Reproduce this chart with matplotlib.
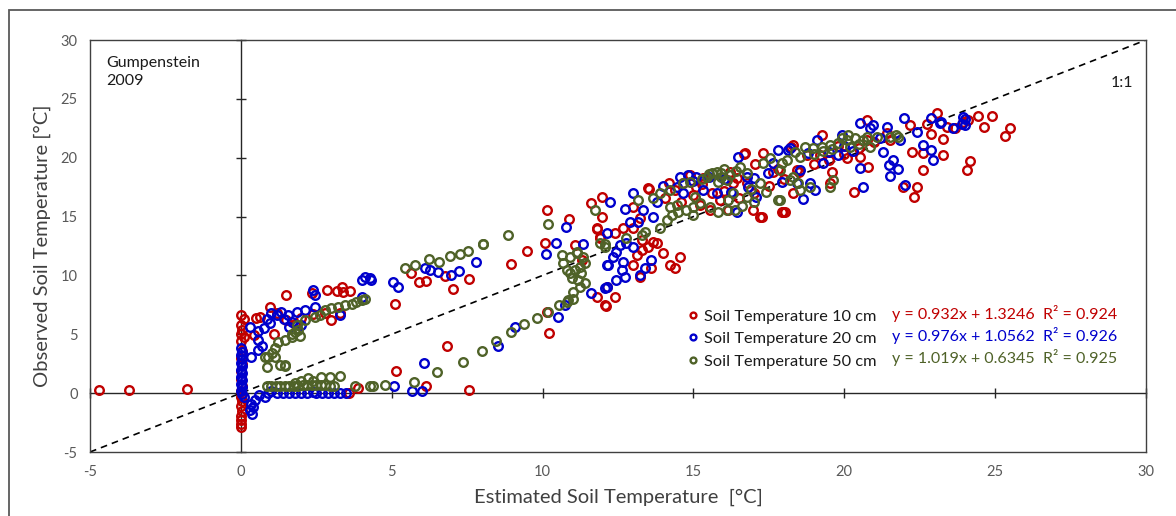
import matplotlib
matplotlib.use("Agg")
import matplotlib.pyplot as plt
from matplotlib.patches import Rectangle

plt.rcParams['font.family'] = ['Lato', 'DejaVu Sans']
plt.rcParams['axes.unicode_minus'] = False

# --- data ---
x10 = [-4.7, -3.7, -1.8,
       0.0, 0.1, 0.0, 0.05, 0.0, 0.1, 0.0, 0.05, 0.0, 0.05, 0.0, 0.0, 0.05, 0.0, 0.0, 0.05, 0.0, 0.05, 0.0, 0.0, 0.0, 0.0,
       0.5, 0.65, 0.96, 1.2, 1.5, 1.5, 1.8, 2.0, 2.36, 2.4, 2.84, 3.0, 3.34, 3.4, 3.61, 3.3, 0.45, 1.1, 2.8, 3.2,
       5.1, 5.65, 5.9, 6.15, 6.76, 7.04, 7.57, 8.97, 9.5,
       3.6, 3.87, 5.14, 6.12, 7.57, 6.82, 10.2, 10.16, 11.79, 12.09, 12.4, 12.12,
       10.08, 10.16, 10.88, 11.6, 11.96, 11.81, 11.9, 11.07, 11.32, 11.81, 11.96, 13.0, 13.22, 12.67, 11.9, 12.4,
       13.0, 13.31, 13.67, 13.8, 13.5, 13.28, 13.12, 13.0, 14.0, 14.55, 14.22, 14.39, 13.22, 13.6, 12.06,
       13.53, 14.2, 13.5, 14.39, 14.05, 14.66, 14.88, 15.32, 15.1, 15.21, 15.55, 15.88, 16.15, 16.32, 16.76, 16.43,
       16.67, 16.7, 17.04, 17.31, 17.64, 17.26, 17.2, 16.98, 17.92, 17.97, 18.3, 18.42, 18.3, 18.03,
       18.25, 18.75, 19.25, 19.52, 19.58, 20.08, 20.32, 20.52, 20.74, 20.76, 20.79, 21.4, 21.95, 22.17, 22.26,
       22.32, 22.4, 22.6, 22.62, 22.73, 22.87, 23.06, 23.26, 23.26, 23.39, 23.67, 23.94, 24.07, 24.16, 24.1,
       24.44, 24.64, 24.88, 25.32, 25.49,
       15.0, 15.6, 16.0, 16.5, 17.0, 17.5, 18.0, 18.5, 19.0, 19.5, 20.0, 20.5, 21.0, 21.5, 19.8, 17.8, 16.2,
       15.3, 14.6, 19.2]
y10 = [0.25, 0.25, 0.35,
       6.6, 6.3, 5.8, 5.4, 5.0, 4.8, 4.4, 3.6, 3.0, 2.5, 1.9, 1.2, 0.6, 0.2, -0.3, -0.7, -1.1, -1.5, -1.9, -2.3, -2.6, -2.9,
       6.4, 6.5, 7.3, 6.8, 8.3, 6.2, 5.9, 6.4, 8.5, 6.7, 8.8, 6.2, 9.0, 8.6, 8.7, 6.8, 4.9, 5.0, 6.8, 8.7,
       7.6, 10.17, 9.46, 9.5, 9.97, 8.84, 9.7, 10.96, 12.06,
       0.0, 0.4, 1.9, 0.6, 0.25, 4.0, 5.07, 6.91, 8.18, 7.42, 8.18, 9.03,
       12.72, 15.55, 14.76, 16.17, 16.68, 14.0, 13.14, 12.57, 11.3, 13.93, 14.98, 15.83, 14.84, 13.99, 13.28, 13.57,
       13.99, 13.0, 12.86, 12.72, 12.43, 12.15, 11.72, 10.88, 11.87, 11.53, 10.88, 10.6, 9.88, 10.6, 7.48,
       17.3, 17.87, 17.39, 17.25, 16.54, 17.82, 18.52, 18.24, 17.53, 15.97, 15.55, 16.4, 15.55, 17.82, 17.82, 18.24,
       20.3, 20.36, 19.5, 20.36, 18.8, 14.98, 14.93, 15.55, 15.4, 15.4, 21.07, 18.95, 16.97, 15.4,
       20.93, 20.22, 21.92, 17.82, 18.8, 19.94, 17.1, 20.08, 21.5, 23.19, 19.23, 22.06, 17.53, 22.77, 20.45,
       16.68, 17.53, 20.36, 18.95, 22.85, 21.98, 23.81, 21.63, 20.22, 22.63, 22.49, 23.05, 18.95, 19.74, 23.19,
       23.53, 22.63, 23.53, 21.86, 22.49,
       16.8, 17.0, 17.2, 16.6, 17.0, 17.6, 18.2, 18.8, 19.5, 19.8, 20.3, 20.8, 21.3, 21.5, 21.0, 19.0, 18.8,
       17.8, 16.2, 20.2]

x20 = [0.0, 0.05, 0.0, 0.05, 0.0, 0.05, 0.0, 0.05, 0.0, 0.05, 0.0, 0.05, 0.0, 0.05, 0.1,
       0.37, 0.41, 0.46, 0.3, 0.8, 0.6, 0.35,
       0.9, 1.2, 1.4, 1.6, 1.8, 2.0, 2.2, 2.5, 2.7, 2.9, 3.1, 3.3, 3.5, 1.0, 2.4,
       5.06, 5.66, 6.01, 6.08, 8.53, 9.08, 10.52, 10.74,
       0.33, 0.57, 0.57, 0.57, 0.77, 0.96, 0.85, 1.33, 1.57, 1.85, 2.12, 2.45, 2.4, 2.45, 1.68, 3.28, 4.0,
       4.11, 4.28, 4.33, 4.0, 1.44, 1.2, 1.6, 2.0, 1.0, 0.3, 0.7,
       5.05, 5.21, 6.1, 6.27, 6.54, 6.98, 7.24, 7.81,
       10.76, 10.44, 10.1, 11.35, 12.12, 12.34, 12.14, 12.45, 11.62, 12.06, 13.0, 12.23, 12.73, 13.33, 13.67,
       12.89, 13.17, 12.56, 12.78, 13.0, 12.45, 12.67, 12.17, 12.62, 12.73, 12.12, 13.61, 13.39, 13.22,
       16.48, 17.81, 18.2, 14.55, 14.83, 15.1, 14.44, 14.66, 15.77, 16.43, 17.09, 17.48, 17.92, 18.42, 16.76,
       15.32, 16.26, 17.64,
       20.52, 21.99, 22.87, 23.94, 23.99, 23.17, 23.61, 22.4, 21.84, 21.4, 20.85, 20.96, 22.62, 22.89, 22.95,
       21.62, 21.49, 21.79, 21.51, 20.52, 20.63, 22.0, 19.91, 19.08, 18.53, 18.86, 19.03, 18.64, 21.29, 18.14,
       19.3, 21.18,
       15.0, 15.5, 16.0, 14.0, 13.8, 19.5, 20.0, 20.3, 19.8, 18.8, 17.0, 16.8, 23.2, 24.0, 23.9]
y20 = [3.8, 3.5, 3.2, 2.9, 2.6, 2.3, 2.0, 1.7, 1.4, 1.1, 0.8, 0.5, 0.2, -0.1, -0.3,
       -1.78, -1.16, -0.6, -1.4, -0.31, -0.2, -0.88,
       0.0, 0.0, 0.05, 0.0, 0.0, 0.0, 0.05, 0.0, 0.0, 0.0, 0.05, 0.0, 0.05, 0.15, 0.1,
       0.6, 0.17, 0.17, 2.58, 4.02, 5.58, 6.43, 7.48,
       3.09, 3.65, 4.5, 5.3, 5.5, 5.92, 6.34, 6.91, 6.63, 6.91, 7.05, 7.33, 8.75, 8.33, 6.06, 6.63, 8.18,
       9.88, 9.74, 9.6, 9.6, 6.34, 6.6, 5.6, 5.8, 6.8, 5.6, 4.0,
       9.46, 9.03, 10.65, 10.45, 10.31, 10.03, 10.39, 11.16,
       14.08, 12.77, 11.81, 12.66, 13.57, 11.58, 10.88, 9.6, 8.47, 8.9, 16.97, 16.25, 15.61, 15.55, 14.98,
       14.56, 14.56, 12.57, 12.72, 12.43, 12.0, 11.16, 10.88, 10.45, 9.88, 9.03, 11.3, 10.6, 10.03,
       20.08, 20.65, 20.79, 18.39, 18.52, 18.39, 17.53, 16.97, 16.97, 15.4, 16.68, 18.66, 17.95, 17.82, 18.39,
       17.25, 17.1, 19.51,
       22.91, 23.34, 23.34, 23.48, 22.77, 22.91, 22.54, 22.2, 21.5, 22.63, 22.49, 22.77, 21.07, 20.65, 19.8,
       19.8, 19.37, 19.0, 18.44, 19.09, 17.53, 17.67, 21.92, 21.5, 18.95, 17.82, 17.25, 16.46, 20.51, 20.65,
       19.51, 21.64,
       18.0, 18.4, 18.2, 17.6, 16.2, 20.5, 21.0, 20.6, 20.2, 20.4, 18.3, 17.5, 23.0, 23.3, 22.9]

x50 = [0.85, 1.0, 1.15, 1.3, 1.45, 1.6, 1.75, 1.9, 2.05, 2.2, 2.35, 2.5, 2.65, 2.8, 2.95, 3.1,
       2.23, 2.67, 2.95, 3.28, 2.0, 2.4, 1.8, 3.78, 4.28, 4.39, 4.77, 5.74,
       0.85, 0.8, 0.91, 1.02, 1.13, 1.29, 1.46, 1.46, 1.13, 1.24, 1.46, 1.68, 1.79, 1.85, 1.96, 2.12,
       2.45, 2.62, 2.78, 3.0, 3.23, 3.45, 3.67, 3.83, 4.0, 4.11, 1.7, 1.9,
       5.44, 5.77, 6.25, 6.58, 6.93, 7.26, 7.53, 8.03, 8.86, 10.19,
       6.49, 7.35, 7.98, 8.47, 8.95, 9.39, 9.8, 10.19, 10.55, 10.85, 11.02, 11.24, 11.4, 11.18, 10.96,
       10.9, 11.07, 11.24, 10.8, 10.68, 10.63, 10.9, 11.13, 11.35, 11.4, 11.29, 11.02, 10.8, 11.13, 12.06,
       11.9, 12.06, 12.78, 13.28, 13.39, 13.89, 14.11, 14.28, 14.49, 14.77, 14.99, 15.21, 15.55, 16.1, 16.37,
       13.67, 13.89, 14.22, 14.66, 14.88, 15.44, 15.6, 15.77, 15.93, 16.1, 15.82, 16.76, 16.54, 17.2, 17.42,
       17.81, 17.31, 17.53, 17.92, 18.09, 18.31, 16.32, 16.76, 16.15, 14.44, 14.22, 15.05, 11.73, 13.17, 8.03,
       18.36, 18.69, 18.97, 19.25, 19.52, 19.8, 20.08, 20.35, 20.63, 20.74, 21.07, 21.51, 21.73, 20.13, 18.53,
       17.86, 18.2, 18.47, 18.86, 19.63, 19.52, 18.53, 17.86, 20.85, 19.91, 21.79,
       15.5, 15.9, 16.2, 16.0, 15.3, 16.4, 19.0, 19.3, 19.6, 20.2, 20.5, 16.9, 17.0, 16.6, 15.8, 15.0]
y50 = [0.6, 0.6, 0.6, 0.6, 0.6, 0.6, 0.6, 0.6, 0.65, 0.65, 0.7, 0.7, 0.7, 0.65, 0.6, 0.6,
       1.25, 1.39, 1.39, 1.44, 1.0, 1.0, 0.9, 0.6, 0.6, 0.6, 0.68, 0.96,
       2.23, 3.09, 3.09, 3.37, 3.09, 2.38, 2.29, 2.38, 3.8, 4.36, 4.5, 4.78, 5.21, 5.78, 4.84, 6.2,
       6.48, 6.63, 7.05, 7.2, 7.33, 7.48, 7.61, 7.76, 7.9, 7.96, 5.0, 5.4,
       10.6, 10.92, 11.36, 11.16, 11.68, 11.84, 12.1, 12.66, 13.45, 14.36,
       1.81, 2.66, 3.57, 4.44, 5.21, 5.86, 6.4, 6.91, 7.48, 7.9, 8.61, 9.03, 9.37, 9.6, 9.74,
       10.17, 10.45, 10.73, 10.45, 11.02, 11.72, 11.58, 11.87, 11.58, 11.02, 10.17, 8.04, 7.76, 12.0, 12.66,
       12.72, 12.43, 13.14, 13.42, 13.7, 13.99, 14.7, 15.12, 15.4, 15.55, 15.83, 16.12, 15.83, 15.55, 15.55,
       16.54, 16.97, 17.25, 17.82, 17.95, 18.39, 18.66, 18.8, 18.39, 18.1, 17.95, 18.66, 19.23, 17.82, 17.1,
       16.4, 19.51, 19.94, 19.51, 19.8, 18.39, 16.97, 16.68, 16.4, 15.97, 15.83, 16.68, 15.55, 16.45, 12.63,
       20.51, 20.93, 20.79, 20.93, 21.07, 21.21, 21.5, 21.64, 21.5, 21.78, 21.78, 21.78, 21.92, 21.92, 20.08,
       18.95, 18.1, 17.82, 17.53, 18.1, 17.53, 17.25, 16.4, 20.93, 21.64, 21.78,
       18.6, 18.7, 18.5, 19.0, 18.2, 18.9, 20.3, 20.6, 20.7, 20.9, 21.2, 17.3, 16.2, 15.9, 15.4, 15.1]

etiquetas = ['Soil Temperature 10 cm', 'Soil Temperature 20 cm', 'Soil Temperature 50 cm']
ecuaciones = ['y = 0.932x + 1.3246', 'y = 0.976x + 1.0562', 'y = 1.019x + 0.6345']
r2 = ['R² = 0.924', 'R² = 0.926', 'R² = 0.925']
colores = ['#C00000', '#0000CC', '#4F6228']
linea_11 = [-5, 30]
ticks = [-5, 0, 5, 10, 15, 20, 25, 30]

# --- figure ---
fig = plt.figure(figsize=(11.76, 5.16), dpi=100)
fig.patch.set_facecolor('white')

# outer chart border (left and top visible only, rest is cropped away)
fig.patches.append(Rectangle((9 / 1176, -0.1), 1.2, 0.1 + 1 - 10 / 516, transform=fig.transFigure,
                             fill=False, edgecolor='#595959', linewidth=1.3, clip_on=False))

rect = [90 / 1176, 1 - 452 / 516, (1146 - 90) / 1176, (452 - 40) / 516]

# axes crossing at zero (drawn underneath the markers)
ax0 = fig.add_axes(rect)
ax0.set_xlim(-5, 30)
ax0.set_ylim(-5, 30)
ax0.patch.set_visible(False)
for lado in ['top', 'right']:
    ax0.spines[lado].set_visible(False)
ax0.spines['left'].set_position(('data', 0))
ax0.spines['bottom'].set_position(('data', 0))
for lado in ['left', 'bottom']:
    ax0.spines[lado].set_color('#262626')
    ax0.spines[lado].set_linewidth(1.0)
ax0.set_xticks(ticks)
ax0.set_yticks(ticks)
ax0.tick_params(direction='inout', length=7, width=1.0, color='#262626',
                labelleft=False, labelbottom=False)
ax0.set_zorder(0)

# main axes with frame and labels
ax = fig.add_axes(rect)
ax.set_zorder(1)
ax.patch.set_visible(False)
ax.set_xlim(-5, 30)
ax.set_ylim(-5, 30)
ax.set_xticks(ticks)
ax.set_yticks(ticks)
ax.tick_params(length=0, labelsize=10.5, labelcolor='#595959', pad=9)
for s in ax.spines.values():
    s.set_color('#404040')
    s.set_linewidth(1.0)

ax.plot(linea_11, linea_11, color='black', linestyle=(0, (4, 3)), linewidth=1.2, zorder=1)

series = [(x10, y10), (x20, y20), (x50, y50)]
handles = []
for (xs, ys), col, lab in zip(series, colores, etiquetas):
    h, = ax.plot(xs, ys, linestyle='none', marker='o', markersize=6.2, markerfacecolor='none',
                 markeredgecolor=col, markeredgewidth=1.7, label=lab, zorder=2)
    handles.append(h)

leg = ax.legend(handles=handles, loc='upper left', bbox_to_anchor=(0.566, 0.347), frameon=False,
                fontsize=11.8, handlelength=0.6, handletextpad=0.4, labelspacing=0.5,
                markerscale=0.68, borderpad=0, borderaxespad=0)
for t in leg.get_texts():
    t.set_color('#1a1a1a')

for i, (eq, r, col) in enumerate(zip(ecuaciones, r2, colores)):
    yy = (452 - (315 + 22 * i)) / 412
    ax.text(0.7595, yy, eq, transform=ax.transAxes, color=col, fontsize=11.5, va='center', ha='left')
    ax.text(0.9025, yy, r, transform=ax.transAxes, color=col, fontsize=11.5, va='center', ha='left')

ax.text(0.015, 0.962, 'Gumpenstein\n2009', transform=ax.transAxes, fontsize=11.5, va='top', ha='left',
        color='#1a1a1a', linespacing=1.35)
ax.text(0.988, 0.895, '1:1', transform=ax.transAxes, fontsize=11.5, va='center', ha='right', color='#1a1a1a')

fig.text(618 / 1176, 1 - 497 / 516, 'Estimated Soil Temperature  [°C]', ha='center', va='center',
         fontsize=14.5, color='#404040')
fig.text(42 / 1176, 1 - 246 / 516, 'Observed Soil Temperature [°C]', ha='center', va='center',
         rotation=90, fontsize=14.5, color='#404040')

fig.savefig('out.png', dpi=100)
